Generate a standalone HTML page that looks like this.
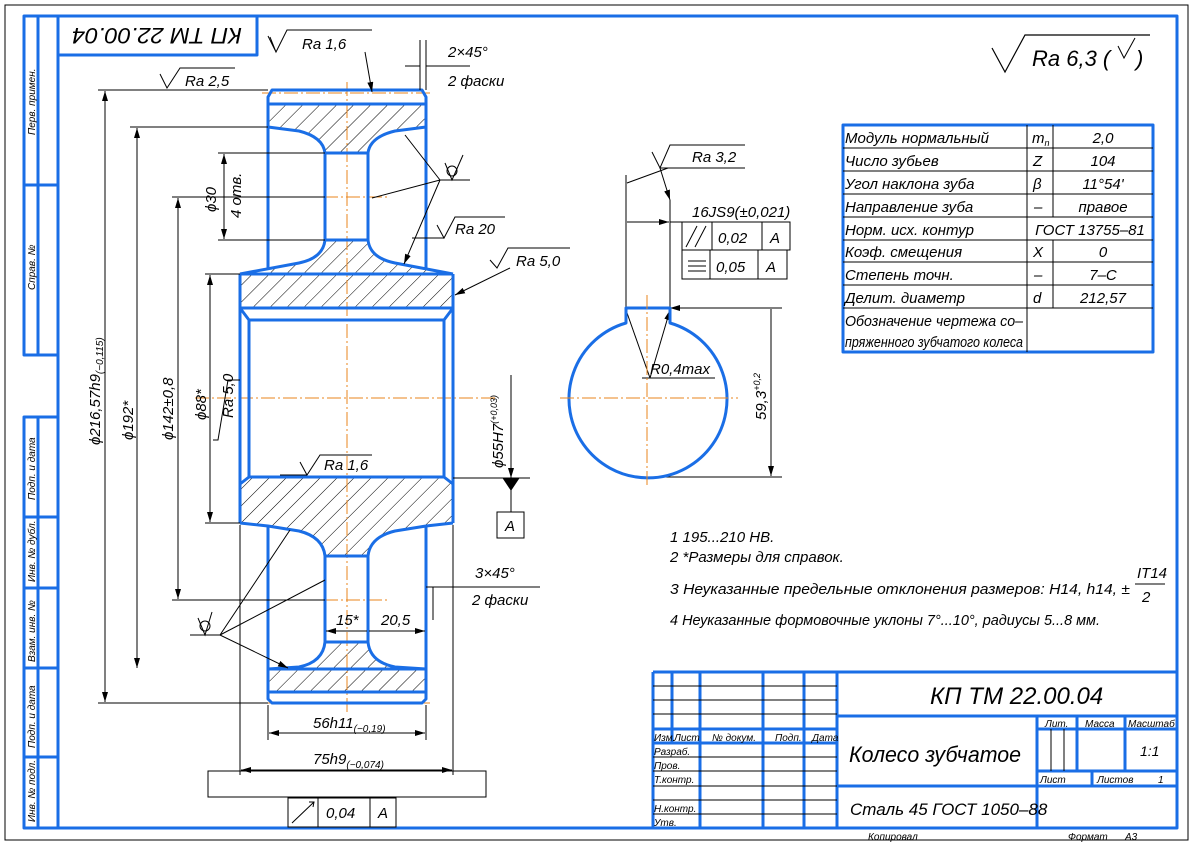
<!DOCTYPE html>
<html><head><meta charset="utf-8"><style>
html,body{margin:0;padding:0;background:#fff;}
svg{display:block}
text{font-family:"Liberation Sans","DejaVu Sans",sans-serif;font-style:italic;fill:#000}
.b{stroke:#1a6ee6;stroke-width:3;fill:none;stroke-linejoin:round}
.t{stroke:#000;stroke-width:1;fill:none}
.c{stroke:#e8861e;stroke-width:1;stroke-dasharray:14 3 2 3;fill:none}
</style></head><body>
<svg width="1194" height="846" viewBox="0 0 1194 846" xmlns="http://www.w3.org/2000/svg">
<defs>
<pattern id="h" patternUnits="userSpaceOnUse" width="12" height="12" patternTransform="rotate(45)">
<line x1="0" y1="0" x2="0" y2="12" stroke="#000" stroke-width="1"/>
</pattern>
<marker id="a" viewBox="0 0 10 6" refX="10" refY="3" markerWidth="10" markerHeight="6" orient="auto-start-reverse" markerUnits="userSpaceOnUse">
<path d="M0,0 L10,3 L0,6 Z" fill="#000"/>
</marker>
</defs>
<rect x="5" y="5" width="1183" height="835" fill="none" stroke="#000" stroke-width="1"/>
<rect x="58" y="16" width="1119" height="812" class="b"/>
<path class="b" d="M58,16 H24 V355 H58 M38,16 V355 M24,185 H58"/>
<path class="b" d="M58,417 H24 V828 H58 M38,417 V828 M24,517 H58 M24,588 H58 M24,668 H58 M24,757 H58"/>
<rect x="58" y="16" width="199" height="39" class="b"/>
<text x="157" y="44" font-size="22" text-anchor="middle" transform="rotate(180 157 36)" textLength="170" lengthAdjust="spacingAndGlyphs">КП ТМ 22.00.04</text>
<g font-size="10">
<text transform="translate(35,135) rotate(-90)">Перв. примен.</text>
<text transform="translate(35,290) rotate(-90)">Справ. №</text>
<text transform="translate(35,500) rotate(-90)">Подп. и дата</text>
<text transform="translate(35,582) rotate(-90)">Инв. № дубл.</text>
<text transform="translate(35,662) rotate(-90)">Взам. инв. №</text>
<text transform="translate(35,748) rotate(-90)">Подп. и дата</text>
<text transform="translate(35,822) rotate(-90)">Инв. № подл.</text>
</g>

<g fill="url(#h)" stroke="none">
<path d="M268,104 H426 V127 L395,131 Q370,137 368,153 H325 Q323,137 299,131 L268,127 Z"/>
<path d="M325,240 H368 Q370,258 395,263 L453,274 V308 H240 V274 L299,263 Q323,258 325,240 Z"/>
<path d="M249,477 H444 L453,484 V523 L426,526 L395,531 Q370,537 368,556 H325 Q323,537 299,531 L268,526 L240,523 V484 Z"/>
<path d="M325,642 H368 Q370,662 395,667 L426,669 V692 H268 V669 L299,667 Q323,662 325,642 Z"/>
</g>
<path class="c" d="M347,82 V712 M195,398 H495 M302,197 H390 M302,600 H390 M262,93 H432 M262,703 H432"/>
<g class="b">
<path d="M268,268 V97 L272,90 H422 L426,97 V268"/>
<path d="M268,104 H426"/>
<path d="M268,127 L299,131 Q323,137 325,153 V240 Q323,258 299,263 L240,274"/>
<path d="M426,127 L395,131 Q370,137 368,153 V240 Q370,258 395,263 L453,274"/>
<path d="M325,153 H368 M325,240 H368"/>
<path d="M240,274 H453 M240,308 H453 M240,274 V523 M453,274 V523"/>
<path d="M240,308 L249,320 V477 L240,484 M453,308 L444,320 V477 L453,484 M249,320 H444 M249,477 H444"/>
<path d="M240,523 L268,526 L299,531 Q323,537 325,556 V642 Q323,662 299,667 L268,669"/>
<path d="M453,523 L426,526 L395,531 Q370,537 368,556 V642 Q370,662 395,667 L426,669"/>
<path d="M325,556 H368 M325,642 H368"/>
<path d="M268,526 V699 L272,703 H422 L426,699 V526 M268,669 H426 M268,692 H426"/>
</g>
<g class="t">
<path d="M98,90 H268 M98,703 H268 M130,127 H268 M172,197 H325 M172,600 H325 M205,274 H240 M205,523 H240 M218,153 H325 M218,240 H325"/>
<path d="M105,91 V702" marker-start="url(#a)" marker-end="url(#a)"/>
<path d="M137,128 V668" marker-start="url(#a)" marker-end="url(#a)"/>
<path d="M178,198 V599" marker-start="url(#a)" marker-end="url(#a)"/>
<path d="M210,275 V522" marker-start="url(#a)" marker-end="url(#a)"/>
<path d="M224,154 V239" marker-start="url(#a)" marker-end="url(#a)"/>
<path d="M453,478 H530 M511,375 V478" marker-end="url(#a)"/>
<path d="M503,478 L511,490 L519,478 Z" fill="#000"/>
<path d="M511,490 V512"/>
<rect x="497" y="512" width="27" height="26"/>
<path d="M268,705 V740 M426,705 V740 M240,525 V775 M453,525 V775"/>
<path d="M269,733 H425" marker-start="url(#a)" marker-end="url(#a)"/>
<path d="M241,770 H452" marker-start="url(#a)" marker-end="url(#a)"/>
<rect x="208" y="771" width="278" height="26"/>
<rect x="288" y="798" width="108" height="29"/>
<path d="M318,798 V827 M370,798 V827 M292,823 L314,802"/>
<path d="M309,802 L314,802 L313,807" />
<path d="M326,631 H367 M369,631 H425" marker-start="url(#a)" marker-end="url(#a)"/>
<path d="M426,587 H540 M433,587 V620"/>
<path d="M420,40 V90 M426,40 V90 M405,66 H420 M426,66 H470"/>
<path d="M270,37 L276,52 L287,30 H372 M276,52 L268,36"/>
<path d="M365,52 L372,92" marker-end="url(#a)"/>
<path d="M160,74 L167,88 L180,68 H235"/>
<path d="M440,180 L405,135 M440,180 L372,198 M440,180 L404,264" marker-end="url(#a)"/>
<path d="M440,180 H470 M445,163 L452,180 L463,155"/>
<circle cx="452" cy="171" r="5"/>
<path d="M190,635 H220 M198,618 L205,635 L212,612"/>
<circle cx="205" cy="626" r="5"/>
<path d="M220,635 L290,530 M220,635 L325,580 M220,635 L288,668" marker-end="url(#a)"/>
<path d="M437,225 L444,238 L455,217 H505 M444,238 H412"/>
<path d="M510,268 L455,295" marker-end="url(#a)"/>
<path d="M490,260 L497,268 L508,248 H570"/>
<path d="M300,462 L307,475 L320,455 H372 M307,475 H280"/>
<path d="M240,380 L228,380 L218,440 L213,440"/>
<path d="M626,308 V175 M670,308 V200 M627,222 H669" marker-end="url(#a)"/>
<path d="M670,222 H700"/>
<path d="M668,168 L627,183 M660,168 L670,200" marker-end="url(#a)"/>
<path d="M660,168 H745 M652,152 L660,168 L670,145 H745"/>
<rect x="682" y="222" width="108" height="28"/>
<rect x="682" y="250" width="105" height="29"/>
<path d="M712,222 V250 M762,222 V250 M710,250 V279 M758,250 V279 M686,247 L697,226 M695,247 L706,226 M688,261 H706 M688,266 H706 M688,271 H706"/>
<path d="M650,378 L626,310 M650,378 L670,310" marker-end="url(#a)"/>
<path d="M642,378 H715"/>
<path d="M670,308 H782 M650,477 H782 M771,309 V476" marker-start="url(#a)" marker-end="url(#a)"/>
<path d="M992,48 L1005,72 L1025,35 H1150" stroke-width="1.2"/>
<path d="M1118,46 L1124,58 L1135,38"/>
</g>
<path class="b" d="M626,308 H670 V323 A79,79 0 1 1 626,323 Z"/>
<path class="c" d="M647,295 V485 M560,398 H738"/>

<g font-size="15">
<text x="302" y="49">Ra 1,6</text>
<text x="185" y="86">Ra 2,5</text>
<text x="448" y="57">2×45°</text>
<text x="448" y="86">2 фаски</text>
<text x="455" y="234">Ra 20</text>
<text x="516" y="266">Ra 5,0</text>
<text x="324" y="470">Ra 1,6</text>
<text x="692" y="162">Ra 3,2</text>
<text x="475" y="578">3×45°</text>
<text x="472" y="605">2 фаски</text>
<text x="336" y="625">15*</text>
<text x="381" y="625">20,5</text>
<text x="313" y="728">56h11<tspan font-size="10" dy="4">(−0,19)</tspan></text>
<text x="313" y="764">75h9<tspan font-size="10" dy="4">(−0,074)</tspan></text>
<text x="326" y="818">0,04</text>
<text x="378" y="818">A</text>
<text x="505" y="531">A</text>
<text x="692" y="217">16JS9(±0,021)</text>
<text x="718" y="243">0,02</text>
<text x="770" y="243">A</text>
<text x="716" y="272">0,05</text>
<text x="766" y="272">A</text>
<text x="650" y="374">R0,4max</text>
</g>
<g font-size="15">
<text transform="translate(100,445) rotate(-90)">ϕ216,57h9<tspan font-size="10" dy="3">(−0,115)</tspan></text>
<text transform="translate(133,440) rotate(-90)">ϕ192*</text>
<text transform="translate(173,440) rotate(-90)">ϕ142±0,8</text>
<text transform="translate(206,420) rotate(-90)">ϕ88*</text>
<text transform="translate(233,418) rotate(-90)">Ra 5,0</text>
<text transform="translate(216,212) rotate(-90)">ϕ30</text>
<text transform="translate(241,218) rotate(-90)">4 отв.</text>
<text transform="translate(503,468) rotate(-90)">ϕ55H7<tspan font-size="9" dy="-6">(+0,03)</tspan></text>
<text transform="translate(766,420) rotate(-90)">59,3<tspan font-size="9" dy="-6">+0,2</tspan></text>
</g>
<text x="1032" y="66" font-size="22">Ra 6,3 (</text>
<text x="1136" y="66" font-size="22">)</text>

<g class="b" stroke-width="2">
<rect x="843" y="125" width="310" height="227"/>
</g>
<g class="t">
<path d="M843,148 H1153 M843,171 H1153 M843,194 H1153 M843,217 H1153 M843,240 H1153 M843,262 H1153 M843,285 H1153 M843,308 H1153"/>
<path d="M1027,125 V352 M1053,125 V217 M1053,240 V308"/>
</g>
<g font-size="15">
<text x="845" y="143">Модуль нормальный</text><text x="1032" y="143">m<tspan font-size="9" dy="3">n</tspan></text><text x="1103" y="143" text-anchor="middle">2,0</text>
<text x="845" y="166">Число зубьев</text><text x="1033" y="166">Z</text><text x="1103" y="166" text-anchor="middle">104</text>
<text x="845" y="189">Угол наклона зуба</text><text x="1033" y="189">β</text><text x="1103" y="189" text-anchor="middle">11°54'</text>
<text x="845" y="212">Направление зуба</text><text x="1034" y="212">–</text><text x="1103" y="212" text-anchor="middle">правое</text>
<text x="845" y="235">Норм. исх. контур</text><text x="1090" y="235" text-anchor="middle">ГОСТ 13755–81</text>
<text x="845" y="257">Коэф. смещения</text><text x="1033" y="257">X</text><text x="1103" y="257" text-anchor="middle">0</text>
<text x="845" y="280">Степень точн.</text><text x="1034" y="280">–</text><text x="1103" y="280" text-anchor="middle">7–C</text>
<text x="845" y="303">Делит. диаметр</text><text x="1033" y="303">d</text><text x="1103" y="303" text-anchor="middle">212,57</text>
<text x="845" y="326" textLength="178" lengthAdjust="spacingAndGlyphs">Обозначение чертежа со–</text>
<text x="845" y="347" textLength="178" lengthAdjust="spacingAndGlyphs">пряженного зубчатого колеса</text>
</g>

<g font-size="15">
<text x="670" y="542">1 195...210 HB.</text>
<text x="670" y="562">2  *Размеры для справок.</text>
<text x="670" y="594" textLength="460" lengthAdjust="spacingAndGlyphs">3 Неуказанные предельные отклонения размеров: H14, h14, ±</text>
<text x="1137" y="578">IT14</text>
<path d="M1135,584 H1165" stroke="#000"/>
<text x="1142" y="602">2</text>
<text x="670" y="625" textLength="430" lengthAdjust="spacingAndGlyphs">4  Неуказанные формовочные уклоны 7°...10°, радиусы 5...8 мм.</text>
</g>

<g class="b">
<path d="M653,672 H1177 M653,672 V828 M837,672 V828 M837,716 H1177 M837,786 H1177 M1037,716 V828 M1037,729 H1177 M1037,771 H1177 M1077,716 V771 M1125,716 V771 M1092,771 V786"/>
<path d="M672,672 V743 M700,672 V828 M763,672 V828 M804,672 V828 M653,729 H837 M653,743 H837"/>
</g>
<g class="t">
<path d="M653,686 H837 M653,700 H837 M653,714 H837 M653,757 H837 M653,771 H837 M653,786 H837 M653,800 H837 M653,814 H837 M1051,729 V771 M1064,729 V771"/>
</g>
<g font-size="10">
<text x="654" y="741">Изм.</text><text x="674" y="741">Лист</text><text x="712" y="741">№ докум.</text><text x="775" y="741">Подп.</text><text x="812" y="741">Дата</text>
<text x="654" y="755">Разраб.</text><text x="654" y="769">Пров.</text><text x="654" y="783">Т.контр.</text>
<text x="654" y="812">Н.контр.</text><text x="654" y="826">Утв.</text>
<text x="1045" y="727">Лит.</text><text x="1085" y="727">Масса</text><text x="1128" y="727">Масштаб</text>
<text x="1040" y="783">Лист</text><text x="1097" y="783">Листов</text><text x="1158" y="783">1</text>
<text x="868" y="840">Копировал</text><text x="1068" y="840">Формат</text><text x="1125" y="840">А3</text>
</g>
<text x="930" y="704" font-size="24">КП ТМ 22.00.04</text>
<text x="849" y="762" font-size="22" textLength="172" lengthAdjust="spacingAndGlyphs">Колесо зубчатое</text>
<text x="850" y="815" font-size="17">Сталь 45 ГОСТ 1050–88</text>
<text x="1140" y="756" font-size="14">1:1</text>
</svg>
</body></html>
